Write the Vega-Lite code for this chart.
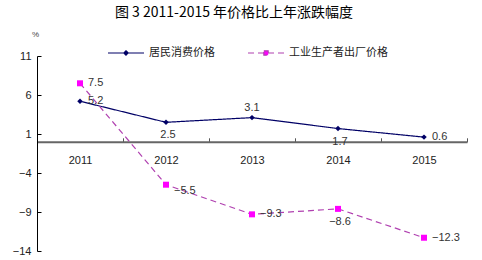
{
  "$schema": "https://vega.github.io/schema/vega-lite/v6.json",
  "width": 430,
  "height": 195,
  "autosize": "none",
  "padding": {"left": 37, "top": 56, "right": 15, "bottom": 9},
  "background": "white",
  "config": {
    "view": {"stroke": null},
    "font": "Liberation Sans"
  },
  "title": {
    "text": "图 3  2011-2015 年价格比上年涨跌幅度",
    "font": "Noto Sans CJK SC",
    "fontSize": 14,
    "fontWeight": "normal",
    "color": "#000000",
    "anchor": "middle",
    "dx": -18,
    "offset": 10
  },
  "data": {
    "values": [
      {"year": "2011", "series": "居民消费价格", "value": 5.2},
      {"year": "2012", "series": "居民消费价格", "value": 2.5},
      {"year": "2013", "series": "居民消费价格", "value": 3.1},
      {"year": "2014", "series": "居民消费价格", "value": 1.7},
      {"year": "2015", "series": "居民消费价格", "value": 0.6},
      {"year": "2011", "series": "工业生产者出厂价格", "value": 7.5},
      {"year": "2012", "series": "工业生产者出厂价格", "value": -5.5},
      {"year": "2013", "series": "工业生产者出厂价格", "value": -9.3},
      {"year": "2014", "series": "工业生产者出厂价格", "value": -8.6},
      {"year": "2015", "series": "工业生产者出厂价格", "value": -12.3}
    ]
  },
  "encoding": {
    "x": {
      "field": "year",
      "type": "nominal",
      "scale": {"type": "band", "paddingInner": 0, "paddingOuter": 0},
      "axis": {
        "title": null,
        "labelAngle": 0,
        "offset": -109.2,
        "tickBand": "extent",
        "tickSize": -4,
        "tickColor": "#555555",
        "domainColor": "#666666",
        "domainWidth": 2,
        "labelPadding": 17,
        "labelFontSize": 11,
        "labelColor": "#222222",
        "labelFont": "Liberation Sans"
      }
    },
    "y": {
      "field": "value",
      "type": "quantitative",
      "scale": {"domain": [-14, 11], "nice": false, "zero": false},
      "axis": {
        "title": "%",
        "titleAngle": 0,
        "titleX": -2,
        "titleY": -18,
        "titleAlign": "center",
        "titleFontSize": 8,
        "titleFontWeight": "normal",
        "titleColor": "#444444",
        "values": [-14, -9, -4, 1, 6, 11],
        "grid": false,
        "tickSize": -4,
        "tickColor": "#000000",
        "domainColor": "#000000",
        "labelPadding": 10,
        "labelFontSize": 11,
        "labelColor": "#222222",
        "labelFont": "Liberation Sans"
      }
    }
  },
  "layer": [
    {
      "mark": {"type": "line", "strokeWidth": 1.2},
      "encoding": {
        "color": {
          "field": "series",
          "type": "nominal",
          "scale": {"domain": ["居民消费价格", "工业生产者出厂价格"], "range": ["#000066", "#B040B0"]},
          "legend": {
            "title": null,
            "orient": "none",
            "legendX": 70,
            "legendY": -22,
            "direction": "horizontal",
            "symbolSize": 1296,
            "symbolType": "M-1,0L1,0",
            "symbolStrokeWidth": 1.2,
            "labelFont": "Noto Sans CJK SC",
            "labelFontSize": 11,
            "labelColor": "#222222",
            "labelOffset": 4,
            "columnPadding": 30,
            "encode": {
              "symbols": {
                "update": {
                  "shape": {"signal": "datum.value === '居民消费价格' ? 'M-1,0L1,0M0,-0.12L0.12,0L0,0.12L-0.12,0Z' : 'M-1,0L1,0M-0.12,-0.12L0.12,-0.12L0.12,0.12L-0.12,0.12Z'"},
                  "fill": {"signal": "datum.value === '居民消费价格' ? '#000066' : '#FF00FF'"},
                  "stroke": {"signal": "datum.value === '居民消费价格' ? '#000066' : '#FF00FF'"},
                  "strokeDash": {"signal": "datum.value === '居民消费价格' ? [] : [4, 4]"}
                }
              }
            }
          }
        },
        "strokeDash": {
          "field": "series",
          "type": "nominal",
          "scale": {"domain": ["居民消费价格", "工业生产者出厂价格"], "range": [[1, 0], [6, 4]]},
          "legend": null
        }
      }
    },
    {
      "transform": [{"filter": "datum.series === '居民消费价格'"}],
      "mark": {"type": "point", "filled": true, "opacity": 1, "shape": "diamond", "size": 30, "color": "#000066"}
    },
    {
      "transform": [{"filter": "datum.series === '工业生产者出厂价格'"}],
      "mark": {"type": "point", "filled": true, "opacity": 1, "shape": "square", "size": 36, "color": "#FF00FF"}
    },
    {
      "transform": [{"filter": "(datum.series === '居民消费价格' && (datum.year === '2011' || datum.year === '2015')) || (datum.series === '工业生产者出厂价格' && (datum.year === '2011' || datum.year === '2013' || datum.year === '2015'))"}],
      "mark": {"type": "text", "align": "left", "baseline": "middle", "dx": 8, "fontSize": 11, "color": "#333333"},
      "encoding": {"text": {"field": "value", "type": "quantitative", "format": ".1f"}}
    },
    {
      "transform": [{"filter": "datum.series === '工业生产者出厂价格' && datum.year === '2012'"}],
      "mark": {"type": "text", "align": "left", "baseline": "middle", "dx": 8, "dy": 6, "fontSize": 11, "color": "#333333"},
      "encoding": {"text": {"field": "value", "type": "quantitative", "format": ".1f"}}
    },
    {
      "transform": [{"filter": "(datum.series === '居民消费价格' && (datum.year === '2012' || datum.year === '2014')) || (datum.series === '工业生产者出厂价格' && datum.year === '2014')"}],
      "mark": {"type": "text", "align": "center", "baseline": "middle", "dx": 2, "dy": 13, "fontSize": 11, "color": "#333333"},
      "encoding": {"text": {"field": "value", "type": "quantitative", "format": ".1f"}}
    },
    {
      "transform": [{"filter": "datum.series === '居民消费价格' && datum.year === '2013'"}],
      "mark": {"type": "text", "align": "center", "baseline": "middle", "dy": -10, "fontSize": 11, "color": "#333333"},
      "encoding": {"text": {"field": "value", "type": "quantitative", "format": ".1f"}}
    }
  ]
}
